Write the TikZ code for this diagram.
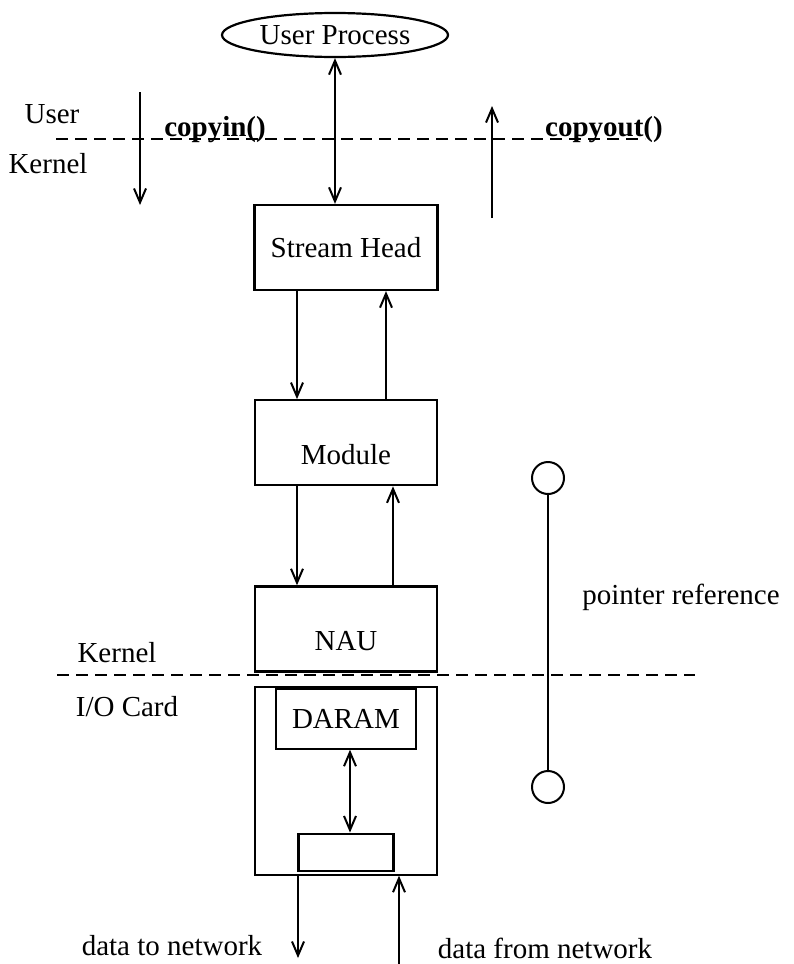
\documentclass[tikz,border=0pt]{standalone}
\usepackage{fontspec}
\setmainfont{Liberation Serif}
\usetikzlibrary{shapes.geometric, arrows.meta, positioning}

\begin{document}
\begin{tikzpicture}[
    x=1pt, y=-1pt,
    font=\fontsize{29}{34}\selectfont,
    block/.style={rectangle, draw=black, line width=2.2pt, minimum width=182pt, minimum height=85pt, inner sep=0pt},
    lowtext/.style={text height=44pt, text depth=0pt},
    slot/.style={rectangle, draw=black, line width=2.2pt, inner sep=0pt},
    userproc/.style={ellipse, draw=black, line width=2.2pt, minimum width=226pt, minimum height=44pt, inner sep=0pt},
    pin/.style={circle, draw=black, line width=2pt, minimum size=32pt, inner sep=0pt},
    arrow/.style={-{Straight Barb[length=14pt, width=12pt]}, line width=2pt},
    twoway/.style={{Straight Barb[length=14pt, width=12pt]}-{Straight Barb[length=14pt, width=12pt]}, line width=2pt},
    border/.style={dashed, dash pattern=on 12pt off 7pt, line width=2.2pt}
]
\useasboundingbox (0,0) rectangle (793,964);
\node (proc) [userproc] at (335,35) {User Process};
\node (head) [block, minimum width=183pt] at (346,247.5) {Stream Head};
\node (module) [block, lowtext, below=108pt of head] {Module};
\node (nau) [block, lowtext, below=99pt of module] {NAU};
\node (card) [block, minimum height=188pt, below=13pt of nau] {};
\node (daram) [slot, minimum width=140pt, minimum height=60pt, below=2pt of card.north] {DARAM};
\node (buf) [slot, minimum width=95pt, minimum height=37pt, above=4pt of card.south] {};
\node (ptrtop) [pin] at (548,478) {};
\node (ptrbot) [pin] at (548,787) {};
\node (ptrlabel) at (681,597) {pointer reference};
\node (user) at (52,114) {User};
\node (kernelup) at (48,164) {Kernel};
\node (copyin) at (215,130) {\bfseries copyin()};
\node (copyout) at (604,130) {\bfseries copyout()};
\node (kernellow) at (117,653) {Kernel};
\node (iocard) at (127,707) {I/O Card};
\node (tonetlabel) at (172,946) {data to network};
\node (fromnetlabel) at (545,948) {data from network};
\coordinate (inTop) at (140,92);
\coordinate (inBot) at (140,205);
\coordinate (outBot) at (492,218);
\coordinate (outTop) at (492,106);
\coordinate (toNet) at (298,958);
\coordinate (fromNet) at (399,964);
\coordinate (ukL) at (56,139);
\coordinate (ukR) at (645,139);
\coordinate (kcL) at (57,675);
\coordinate (kcR) at (695,675);
\draw [border] (ukL) -- (ukR);
\draw [border] (kcL) -- (kcR);
\draw [twoway] (proc.south) -- (proc.south |- head.north);
\draw [arrow] (inTop) -- (inBot);
\draw [arrow] (outBot) -- (outTop);
\draw [arrow] ([xshift=-49pt]head.south) -- ([xshift=-49pt]module.north);
\draw [arrow] ([xshift=40pt]module.north) -- ([xshift=40pt]head.south);
\draw [arrow] ([xshift=-49pt]module.south) -- ([xshift=-49pt]nau.north);
\draw [arrow] ([xshift=47pt]nau.north) -- ([xshift=47pt]module.south);
\draw [twoway] ([xshift=4pt]daram.south) -- ([xshift=4pt]daram.south |- buf.north);
\draw [arrow] (card.south -| toNet) -- (toNet);
\draw [arrow] (fromNet) -- (fromNet |- card.south);
\draw [line width=2pt] (ptrtop) -- (ptrbot);
\end{tikzpicture}
\end{document}
